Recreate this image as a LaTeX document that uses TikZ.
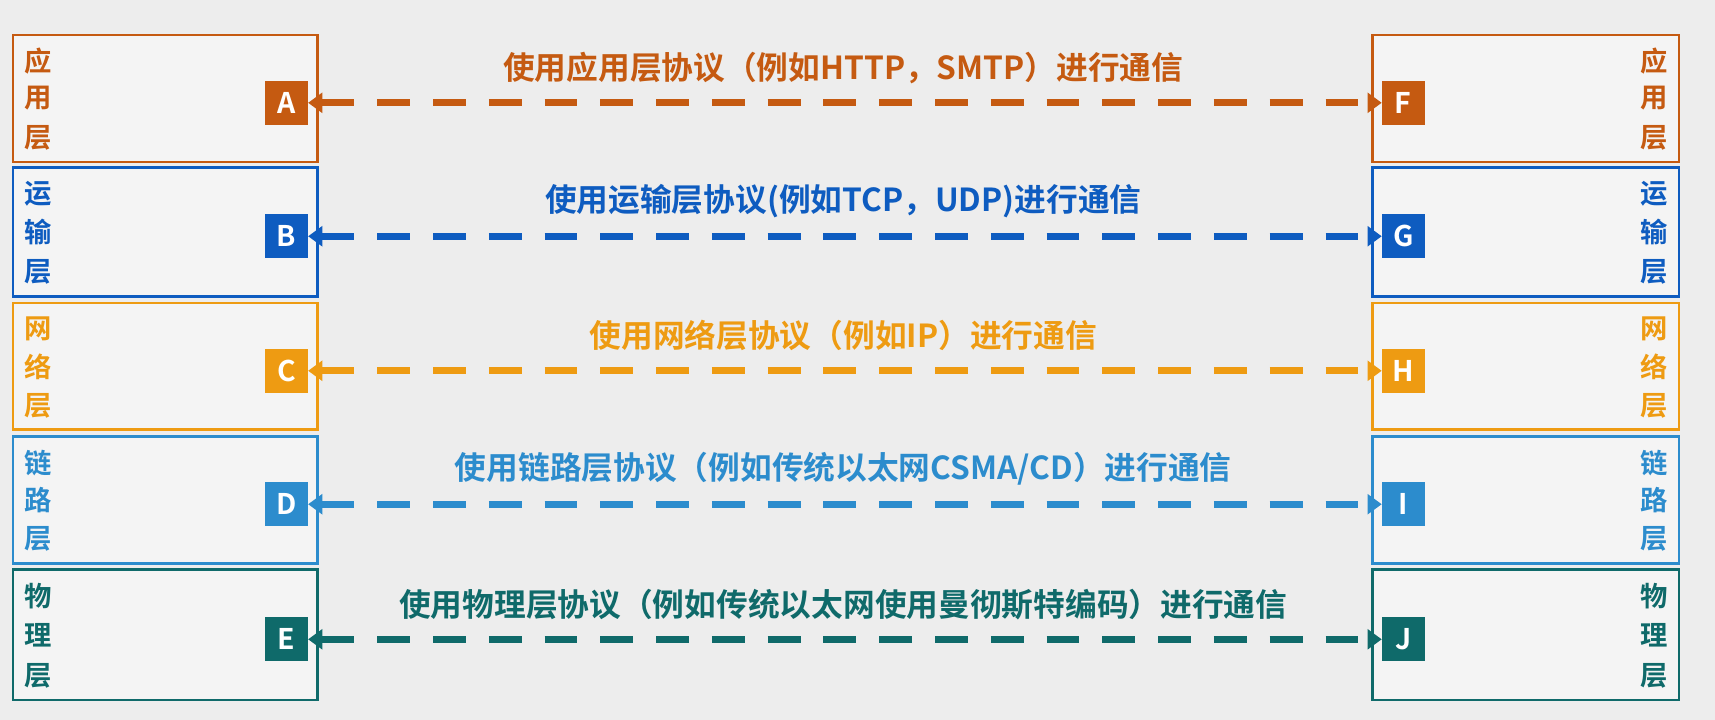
\documentclass[tikz,border=0pt]{standalone}
\usepackage{fontspec}
\setmainfont{Noto Sans CJK SC}
\newfontfamily\cjkb{Noto Sans CJK SC Bold}
\usetikzlibrary{arrows.meta}
\definecolor{cA}{HTML}{C55A11}
\definecolor{cB}{HTML}{0E5CC0}
\definecolor{cC}{HTML}{EE9B12}
\definecolor{cD}{HTML}{2C8CCD}
\definecolor{cE}{HTML}{0F6A6A}
\definecolor{bg}{HTML}{EDEDED}
\tikzset{
  layerbox/.style={draw=#1, line width=2.5pt, fill=white!40!bg},
  letterbox/.style={fill=#1, text=white, font=\cjkb\fontsize{26}{26}\selectfont, minimum width=39pt, minimum height=40pt, inner sep=0pt},
  sidechar/.style={text=#1, font=\cjkb\fontsize{25}{25}\selectfont, inner sep=0pt},
  msg/.style={text=#1, font=\cjkb\fontsize{29}{29}\selectfont, inner sep=0pt},
  link/.style={draw=#1, line width=6.5pt, dash pattern=on 30pt off 21pt, {Triangle[length=13pt,width=18pt]}-{Triangle[length=13pt,width=18pt]}}
}
\begin{document}
\begin{tikzpicture}[x=1pt,y=-1pt]
\fill[bg] (0,0) rectangle (1568,658);
\useasboundingbox (0,0) rectangle (1568,658);
\foreach \col/\top/\bot/\L/\R/\a/\b/\c/\txt in {
  cA/32/148/A/F/应/用/层/{使用应用层协议（例如HTTP，SMTP）进行通信},
  cB/153/271/B/G/运/输/层/{使用运输层协议(例如TCP，UDP)进行通信},
  cC/277/393/C/H/网/络/层/{使用网络层协议（例如IP）进行通信},
  cD/399/515/D/I/链/路/层/{使用链路层协议（例如传统以太网CSMA/CD）进行通信},
  cE/521/640/E/J/物/理/层/{使用物理层协议（例如传统以太网使用曼彻斯特编码）进行通信}}{
  \pgfmathsetmacro{\mid}{(\top+\bot)/2}
  \draw[layerbox=\col] (12,\top) rectangle (290,\bot);
  \draw[layerbox=\col] (1255,\top) rectangle (1535,\bot);
  \node[sidechar=\col] (l\L1) at (35,\top+24) {\a};
  \node[sidechar=\col] (l\L2) at (35,\mid) {\b};
  \node[sidechar=\col] (l\L3) at (35,\bot-22) {\c};
  \node[sidechar=\col] (r\R1) at (1512,\top+24) {\a};
  \node[sidechar=\col] (r\R2) at (1512,\mid) {\b};
  \node[sidechar=\col] (r\R3) at (1512,\bot-22) {\c};
  \node[letterbox=\col] (n\L) at (262,\mid+4) {\L};
  \node[letterbox=\col] (n\R) at (1283,\mid+4) {\R};
  \node[msg=\col] (m\L) at (771,\mid-28) {\txt};
  \draw[link=\col] (n\L.east) -- (n\R.west);
}
\end{tikzpicture}
\end{document}
